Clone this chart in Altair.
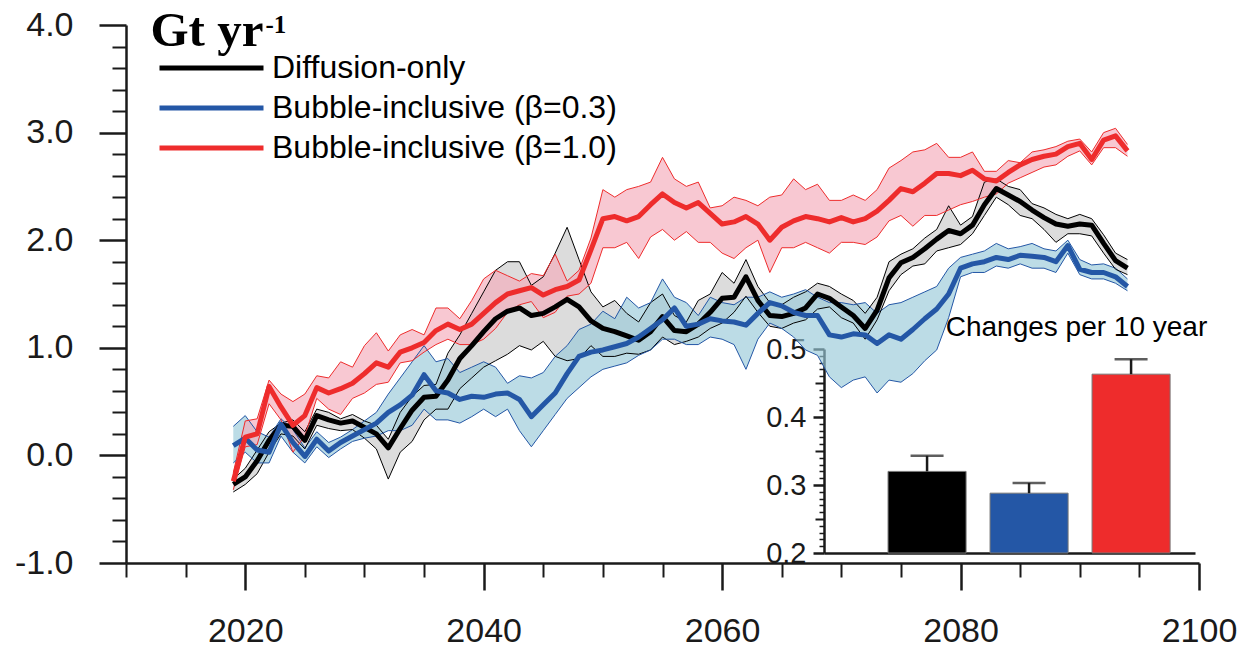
import altair as alt
import pandas as pd

# ---- data -------------------------------------------------------------
years = list(range(2019, 2095))

series_names = ["Diffusion-only", "Bubble-inclusive (β=0.3)", "Bubble-inclusive (β=1.0)"]
line_colors = ["#000000", "#2457a6", "#ee2c2c"]
band_colors = ["#c9c9c9", "#98c9d9", "#f4aaba"]

# Diffusion-only: ensemble mean and spread
diff_mean = [-0.27, -0.20, -0.05, 0.14, 0.28, 0.27, 0.14, 0.37, 0.33, 0.30,
             0.32, 0.26, 0.20, 0.07, 0.25, 0.42, 0.54, 0.55, 0.70, 0.90,
             1.02, 1.15, 1.27, 1.34, 1.37, 1.30, 1.32, 1.38, 1.45, 1.38,
             1.25, 1.18, 1.15, 1.11, 1.07, 1.15, 1.29, 1.16, 1.15, 1.22,
             1.33, 1.46, 1.47, 1.66, 1.44, 1.30, 1.29, 1.32, 1.37, 1.50,
             1.46, 1.38, 1.30, 1.18, 1.35, 1.65, 1.79, 1.84, 1.92, 2.01,
             2.09, 2.06, 2.14, 2.33, 2.48, 2.42, 2.36, 2.28, 2.21, 2.15,
             2.13, 2.15, 2.14, 1.97, 1.81, 1.74]
diff_hi = [-0.22, -0.12, 0.05, 0.22, 0.30, 0.33, 0.22, 0.43, 0.40, 0.34,
           0.38, 0.32, 0.28, 0.15, 0.40, 0.55, 0.65, 0.66, 0.95, 1.12,
           1.32, 1.52, 1.72, 1.80, 1.80, 1.58, 1.66, 1.88, 2.12, 1.82,
           1.52, 1.38, 1.44, 1.32, 1.24, 1.42, 1.50, 1.30, 1.24, 1.44,
           1.50, 1.70, 1.60, 1.82, 1.57, 1.42, 1.40, 1.47, 1.52, 1.60,
           1.57, 1.50, 1.44, 1.32, 1.47, 1.80, 1.87, 1.92, 2.02, 2.10,
           2.32, 2.14, 2.22, 2.54, 2.57, 2.50, 2.47, 2.34, 2.30, 2.24,
           2.20, 2.24, 2.20, 2.05, 1.88, 1.82]
diff_lo = [-0.34, -0.27, -0.17, 0.03, 0.20, 0.18, 0.06, 0.28, 0.25, 0.23,
           0.24, 0.16, 0.06, -0.22, 0.03, 0.13, 0.33, 0.43, 0.43, 0.62,
           0.72, 0.82, 0.88, 0.94, 1.02, 0.98, 1.06, 0.92, 0.88, 0.90,
           1.02, 0.92, 0.92, 0.95, 0.94, 0.98, 1.10, 1.03, 1.06, 1.10,
           1.18, 1.23, 1.33, 1.48, 1.33, 1.20, 1.18, 1.23, 1.26, 1.36,
           1.38, 1.28, 1.23, 1.08, 1.26, 1.53, 1.68, 1.76, 1.78, 1.90,
           1.93, 1.96, 2.06, 2.23, 2.40, 2.33, 2.23, 2.20, 2.10, 1.98,
           2.06, 2.06, 2.04, 1.88, 1.73, 1.68]

# Bubble-inclusive, beta = 0.3
b03_mean = [0.09, 0.16, 0.05, 0.03, 0.29, 0.12, -0.01, 0.15, 0.04, 0.12,
            0.18, 0.24, 0.30, 0.40, 0.47, 0.56, 0.75, 0.60, 0.58, 0.52,
            0.55, 0.54, 0.57, 0.58, 0.52, 0.36, 0.47, 0.58, 0.76, 0.92,
            0.96, 0.98, 1.01, 1.04, 1.10, 1.18, 1.26, 1.37, 1.20, 1.22,
            1.27, 1.25, 1.24, 1.21, 1.32, 1.42, 1.39, 1.33, 1.30, 1.30,
            1.12, 1.10, 1.13, 1.12, 1.04, 1.12, 1.08, 1.17, 1.27, 1.36,
            1.50, 1.74, 1.78, 1.80, 1.84, 1.82, 1.86, 1.85, 1.84, 1.80,
            1.95, 1.73, 1.70, 1.70, 1.66, 1.57]
b03_hi = [0.27, 0.37, 0.22, 0.17, 0.34, 0.24, 0.07, 0.22, 0.12, 0.17,
          0.24, 0.32, 0.40, 0.57, 0.72, 0.87, 1.02, 0.87, 0.90, 0.77,
          0.82, 0.87, 0.82, 0.67, 0.74, 0.72, 0.77, 0.92, 1.02, 1.17,
          1.22, 1.34, 1.27, 1.47, 1.37, 1.42, 1.64, 1.47, 1.42, 1.30,
          1.47, 1.42, 1.40, 1.47, 1.47, 1.52, 1.47, 1.50, 1.54, 1.47,
          1.42, 1.42, 1.40, 1.42, 1.32, 1.40, 1.42, 1.47, 1.52, 1.57,
          1.74, 1.84, 1.87, 1.90, 1.97, 1.92, 1.94, 1.97, 1.92, 1.90,
          2.00, 1.82, 1.77, 1.78, 1.74, 1.64]
b03_lo = [-0.07, 0.03, -0.07, -0.07, 0.18, 0.03, -0.07, 0.08, -0.02, 0.06,
          0.13, 0.16, 0.18, 0.23, 0.23, 0.28, 0.43, 0.33, 0.33, 0.30,
          0.36, 0.43, 0.36, 0.43, 0.23, 0.08, 0.23, 0.38, 0.53, 0.63,
          0.73, 0.80, 0.83, 0.86, 0.93, 0.98, 1.08, 1.08, 1.03, 1.03,
          1.10, 1.08, 1.03, 0.80, 1.08, 1.23, 1.18, 1.10, 0.98, 0.93,
          0.73, 0.63, 0.70, 0.73, 0.58, 0.70, 0.68, 0.76, 0.88, 0.98,
          1.28, 1.66, 1.70, 1.70, 1.76, 1.74, 1.78, 1.74, 1.74, 1.70,
          1.88, 1.68, 1.64, 1.64, 1.60, 1.53]

# Bubble-inclusive, beta = 1.0
b10_mean = [-0.24, 0.17, 0.20, 0.64, 0.45, 0.28, 0.37, 0.63, 0.58, 0.62,
            0.67, 0.76, 0.86, 0.82, 0.96, 1.00, 1.05, 1.16, 1.22, 1.17,
            1.22, 1.32, 1.42, 1.50, 1.53, 1.56, 1.49, 1.54, 1.57, 1.63,
            1.91, 2.20, 2.22, 2.18, 2.22, 2.33, 2.43, 2.35, 2.30, 2.35,
            2.25, 2.15, 2.17, 2.22, 2.15, 2.00, 2.12, 2.18, 2.22, 2.20,
            2.17, 2.21, 2.17, 2.20, 2.27, 2.37, 2.48, 2.45, 2.53, 2.62,
            2.62, 2.60, 2.65, 2.57, 2.55, 2.63, 2.70, 2.75, 2.78, 2.80,
            2.87, 2.90, 2.75, 2.93, 2.97, 2.83]
b10_hi = [-0.16, 0.32, 0.34, 0.70, 0.57, 0.50, 0.57, 0.74, 0.72, 0.87,
          0.82, 1.02, 1.14, 0.97, 1.12, 1.17, 1.12, 1.37, 1.37, 1.27,
          1.44, 1.64, 1.72, 1.67, 1.62, 1.69, 1.67, 1.87, 1.62, 1.72,
          2.02, 2.47, 2.40, 2.47, 2.50, 2.54, 2.77, 2.57, 2.50, 2.54,
          2.30, 2.32, 2.40, 2.37, 2.32, 2.40, 2.42, 2.57, 2.47, 2.52,
          2.37, 2.37, 2.42, 2.37, 2.47, 2.67, 2.74, 2.82, 2.84, 2.90,
          2.77, 2.77, 2.82, 2.64, 2.64, 2.74, 2.72, 2.82, 2.84, 2.87,
          2.92, 2.94, 2.82, 3.00, 3.04, 2.89]
b10_lo = [-0.32, 0.08, 0.10, 0.48, 0.33, 0.03, 0.18, 0.53, 0.43, 0.38,
          0.53, 0.58, 0.66, 0.68, 0.86, 0.88, 0.96, 1.03, 1.08, 1.03,
          1.03, 1.08, 1.18, 1.33, 1.40, 1.43, 1.28, 1.33, 1.48, 1.50,
          1.60, 1.93, 1.93, 1.98, 1.83, 2.03, 2.10, 2.00, 2.08, 1.98,
          1.98, 1.88, 1.83, 1.93, 2.00, 1.70, 1.93, 1.93, 1.98, 1.93,
          1.88, 1.98, 1.98, 1.96, 2.03, 2.18, 2.23, 2.13, 2.23, 2.23,
          2.28, 2.33, 2.36, 2.40, 2.43, 2.53, 2.58, 2.63, 2.68, 2.70,
          2.78, 2.83, 2.70, 2.86, 2.86, 2.78]

# Inset: changes per 10 years (bar value and top of error whisker)
rate_mean = [0.320, 0.288, 0.463]
rate_upper = [0.343, 0.303, 0.485]

# Axis tick positions
x_major_ticks = [2020, 2040, 2060, 2080, 2100]
x_minor_ticks = [2010, 2015, 2025, 2030, 2035, 2045, 2050, 2055, 2065,
                 2070, 2075, 2085, 2090, 2095]
y_major_ticks = [-1, 0, 1, 2, 3, 4]
y_minor_ticks = [-0.8, -0.6, -0.4, -0.2, 0.2, 0.4, 0.6, 0.8, 1.2, 1.4, 1.6,
                 1.8, 2.2, 2.4, 2.6, 2.8, 3.2, 3.4, 3.6, 3.8]
inset_major_ticks = [0.2, 0.3, 0.4, 0.5]
inset_mid_ticks = [0.25, 0.35, 0.45]
inset_minor_ticks = [0.21, 0.22, 0.23, 0.24, 0.26, 0.27, 0.28, 0.29,
                     0.31, 0.32, 0.33, 0.34, 0.36, 0.37, 0.38, 0.39,
                     0.41, 0.42, 0.43, 0.44, 0.46, 0.47, 0.48, 0.49]

# ---- tables -------------------------------------------------------------
rows = []
for name, m_list, h_list, l_list in zip(
        series_names,
        [diff_mean, b03_mean, b10_mean],
        [diff_hi, b03_hi, b10_hi],
        [diff_lo, b03_lo, b10_lo]):
    for yr, m, h, l in zip(years, m_list, h_list, l_list):
        rows.append({"year": yr, "series": name, "mean": m, "hi": h, "lo": l})
ts = pd.DataFrame(rows)
bars = pd.DataFrame({"series": series_names, "rate": rate_mean, "upper": rate_upper})

# ---- geometry -----------------------------------------------------------
W, H = 1073, 538
INK = "#1a1a1a"
SANS = "Liberation Sans"

legend = alt.Legend(title=None, orient="none", legendX=31, legendY=24, padding=0,
                    symbolType="stroke", symbolSize=10816, symbolStrokeWidth=5,
                    clipHeight=38, rowPadding=2, labelOffset=6, labelFont=SANS,
                    labelFontSize=32, labelColor="#000000", labelLimit=600)


def x_scale():
    return alt.Scale(domain=[2010, 2100], nice=False, zero=False)


def y_scale():
    return alt.Scale(domain=[-1, 4], nice=False, zero=False)


def color_enc():
    # every layer carries the same legend definition so the merged legend stays on
    return alt.Color("series:N",
                     scale=alt.Scale(domain=series_names, range=line_colors),
                     legend=legend)


def inset_x(axis=None):
    return alt.X("series:N", sort=series_names,
                 scale=alt.Scale(type="band", domain=series_names, range=[698, 1069],
                                 paddingInner=0.235, paddingOuter=0.436, align=0.72),
                 axis=axis)


def inset_y(field, axis=None):
    return alt.Y(f"{field}:Q",
                 scale=alt.Scale(domain=[0.2, 0.5], range=[528, 324], nice=False, zero=False),
                 axis=axis)


common = dict(domainColor=INK, tickColor=INK, labelColor=INK, labelFont=SANS,
              grid=False, labelFlush=False, labelOverlap=False)

x_major = alt.Axis(orient="bottom", values=x_major_ticks, format="d", tickSize=27,
                   tickWidth=2.5, domainWidth=2.5, labelFontSize=34, labelPadding=24,
                   title=None, **common)
x_minor = alt.Axis(orient="bottom", values=x_minor_ticks, tickSize=14, tickWidth=2,
                   domain=False, labels=False, title=None, **common)
y_major = alt.Axis(orient="left", values=y_major_ticks,
                   labelExpr="replace(format(datum.value, '.1f'), '\u2212', '-')",
                   tickSize=27, tickWidth=2.5, domainWidth=2.5, labelFontSize=34,
                   labelPadding=26, title="Gt yr", titleAngle=0, titleX=24, titleY=20,
                   titleAlign="left", titleBaseline="alphabetic",
                   titleFont="Liberation Serif", titleFontSize=49, titleFontWeight="bold",
                   titleColor="#000000", **common)
y_minor = alt.Axis(orient="left", values=y_minor_ticks, tickSize=14, tickWidth=2,
                   domain=False, labels=False, title="-1", titleAngle=0, titleX=139,
                   titleY=7, titleAlign="left", titleBaseline="alphabetic",
                   titleFont="Liberation Serif", titleFontSize=25, titleFontWeight="bold",
                   titleColor="#000000", **common)

in_y_major = alt.Axis(orient="left", offset=-698, values=inset_major_ticks, format=".1f",
                      tickSize=11, tickWidth=2.5, domainWidth=2.5, labelFontSize=29,
                      labelPadding=7, title=None, **common)
in_y_mid = alt.Axis(orient="left", offset=-698, values=inset_mid_ticks, tickSize=9,
                    tickWidth=2, domain=False, labels=False, title=None, **common)
in_y_minor = alt.Axis(orient="left", offset=-698, values=inset_minor_ticks, tickSize=5,
                      tickWidth=1.5, domain=False, labels=False, title=None, **common)
in_x_base = alt.Axis(orient="bottom", offset=-10, ticks=False, labels=False,
                     domainWidth=2.5, title=None, **common)
in_x_title = alt.Axis(orient="top", ticks=False, labels=False, domain=False,
                      title="Changes per 10 year", titleX=950, titleY=310,
                      titleAlign="center", titleBaseline="alphabetic", titleAngle=0,
                      titleFont=SANS, titleFontSize=28, titleFontWeight="normal",
                      titleColor="#000000", **common)

# ---- main time series ---------------------------------------------------
base = alt.Chart(ts)


def band_layer(name, fill, x_axis=None, y_axis=None):
    # shaded ensemble spread of one experiment
    return base.transform_filter(alt.datum.series == name).mark_area(
        opacity=0.65, color=fill
    ).encode(
        x=alt.X("year:Q", scale=x_scale(), axis=x_axis),
        y=alt.Y("lo:Q", scale=y_scale(), axis=y_axis),
        y2="hi:Q",
    )


bands = [
    band_layer(series_names[0], band_colors[0], x_major, y_major),
    band_layer(series_names[1], band_colors[1]),
    band_layer(series_names[2], band_colors[2]),
]

thin_hi = base.mark_line(strokeWidth=1).encode(
    x=alt.X("year:Q", scale=x_scale(), axis=x_minor),
    y=alt.Y("hi:Q", scale=y_scale(), axis=y_minor),
    color=color_enc(),
)

thin_lo = base.mark_line(strokeWidth=1).encode(
    x=alt.X("year:Q", scale=x_scale(), axis=None),
    y=alt.Y("lo:Q", scale=y_scale(), axis=None),
    color=color_enc(),
)

thick = base.mark_line(strokeWidth=5, strokeJoin="round").encode(
    x=alt.X("year:Q", scale=x_scale(), axis=None),
    y=alt.Y("mean:Q", scale=y_scale(), axis=None),
    color=color_enc(),
)

# ---- inset bar chart ----------------------------------------------------
inset_bars = alt.Chart(bars).mark_bar(stroke="#777777", strokeWidth=1).encode(
    x=inset_x(in_x_base),
    y=inset_y("rate", in_y_major),
    y2=alt.datum(0.2),
    color=color_enc(),
)

whiskers = alt.Chart(bars).mark_rule(strokeWidth=2.5, color=INK).encode(
    x=inset_x(None),
    y=inset_y("rate", in_y_minor),
    y2="upper:Q",
)

caps = alt.Chart(bars).mark_tick(size=33, thickness=2.5, color=INK,
                                 orient="horizontal").encode(
    x=inset_x(in_x_title),
    y=inset_y("upper", in_y_mid),
)

chart = alt.layer(
    *bands, thin_hi, thin_lo, thick, inset_bars, whiskers, caps
).resolve_scale(
    x="independent", y="independent"
).properties(
    width=W, height=H,
    padding={"left": 126, "top": 25, "right": 44, "bottom": 84},
    autosize=alt.AutoSizeParams(type="none"),
    background="white",
).configure_view(stroke=None)

chart.save("out.html", embed_options={"renderer": "svg", "actions": False})
